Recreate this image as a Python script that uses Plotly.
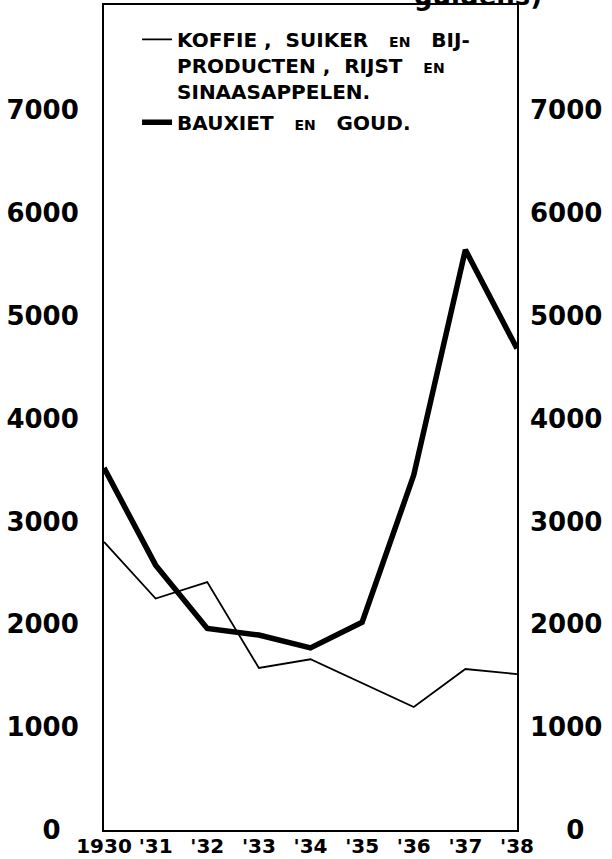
import plotly.graph_objects as go

years = [1930, 1931, 1932, 1933, 1934, 1935, 1936, 1937, 1938]
koffie = [2800, 2250, 2410, 1575, 1660, 1430, 1195, 1565, 1515]
bauxiet = [3520, 2575, 1960, 1895, 1770, 2020, 3450, 5640, 4680]

x_tick_vals = years
x_tick_text = ["1930", "'31", "'32", "'33", "'34", "'35", "'36", "'37", "'38"]
y_tick_vals = [0, 1000, 2000, 3000, 4000, 5000, 6000, 7000]
y_tick_left = ["0\u2007", "1000", "2000", "3000", "4000", "5000", "6000", "7000"]
y_tick_right = ["\u2007\u20070", "1000", "2000", "3000", "4000", "5000", "6000", "7000"]

NB = "\u00a0"
EN = "<span style='font-size:14px'>EN</span>"
name_koffie = (f"KOFFIE{NB},{NB}{NB}SUIKER{NB}{NB}{NB}{EN}{NB}{NB}{NB}BIJ-<br>"
               f"PRODUCTEN{NB},{NB}{NB}RIJST{NB}{NB}{NB}{EN}<br>"
               "SINAASAPPELEN.")
name_bauxiet = f"BAUXIET{NB}{NB}{NB}{EN}{NB}{NB}{NB}GOUD."

FONT = "DejaVu Sans"

fig = go.Figure()
fig.add_trace(go.Scatter(x=years, y=koffie, mode="lines", name=name_koffie,
                         legendgroup="a",
                         line=dict(color="black", width=1.8)))
fig.add_trace(go.Scatter(x=years, y=bauxiet, mode="lines", name=name_bauxiet,
                         legendgroup="b",
                         line=dict(color="black", width=5.5)))
# invisible trace to host the right axis
fig.add_trace(go.Scatter(x=[years[0]], y=[0], yaxis="y2", mode="markers",
                         marker=dict(opacity=0), showlegend=False, hoverinfo="skip"))

fig.update_layout(
    width=612, height=859,
    margin=dict(l=104, r=95, t=5, b=29, autoexpand=False),
    paper_bgcolor="white", plot_bgcolor="white",
    font=dict(family=FONT, color="black"),
    showlegend=True,
    legend=dict(x=0.08, y=0.982, xanchor="left", yanchor="top",
                bgcolor="rgba(0,0,0,0)", valign="top",
                tracegroupgap=2,
                font=dict(family=FONT, size=20, color="black", weight="bold")),
    xaxis=dict(range=[1930, 1938], tickvals=x_tick_vals, ticktext=x_tick_text,
               showgrid=False, zeroline=False, showline=True, linecolor="black",
               linewidth=2, mirror=True, ticks="", automargin=False,
               tickfont=dict(family=FONT, size=20, weight="bold"),
               ticklabelstandoff=-3),
    yaxis=dict(range=[0, 8020], tickvals=y_tick_vals, ticktext=y_tick_left,
               showgrid=False, zeroline=False, showline=True, linecolor="black",
               linewidth=2, mirror=True, ticks="", automargin=False,
               tickfont=dict(family=FONT, size=26, weight="bold"),
               ticklabelstandoff=18),
    yaxis2=dict(range=[0, 8020], tickvals=y_tick_vals, ticktext=y_tick_right,
                overlaying="y", side="right", showgrid=False, zeroline=False,
                showline=False, ticks="", automargin=False,
                tickfont=dict(family=FONT, size=26, weight="bold"),
                ticklabelstandoff=12),
)

fig.add_annotation(text="guldens)", xref="paper", yref="paper",
                   x=0.906, y=0.9903, xanchor="center", yanchor="bottom",
                   showarrow=False,
                   font=dict(family=FONT, size=26, color="black", weight="bold"))

fig.write_html("out.html", config={"displayModeBar": False},
               post_script="document.body.style.margin='0';document.body.style.padding='0';")
